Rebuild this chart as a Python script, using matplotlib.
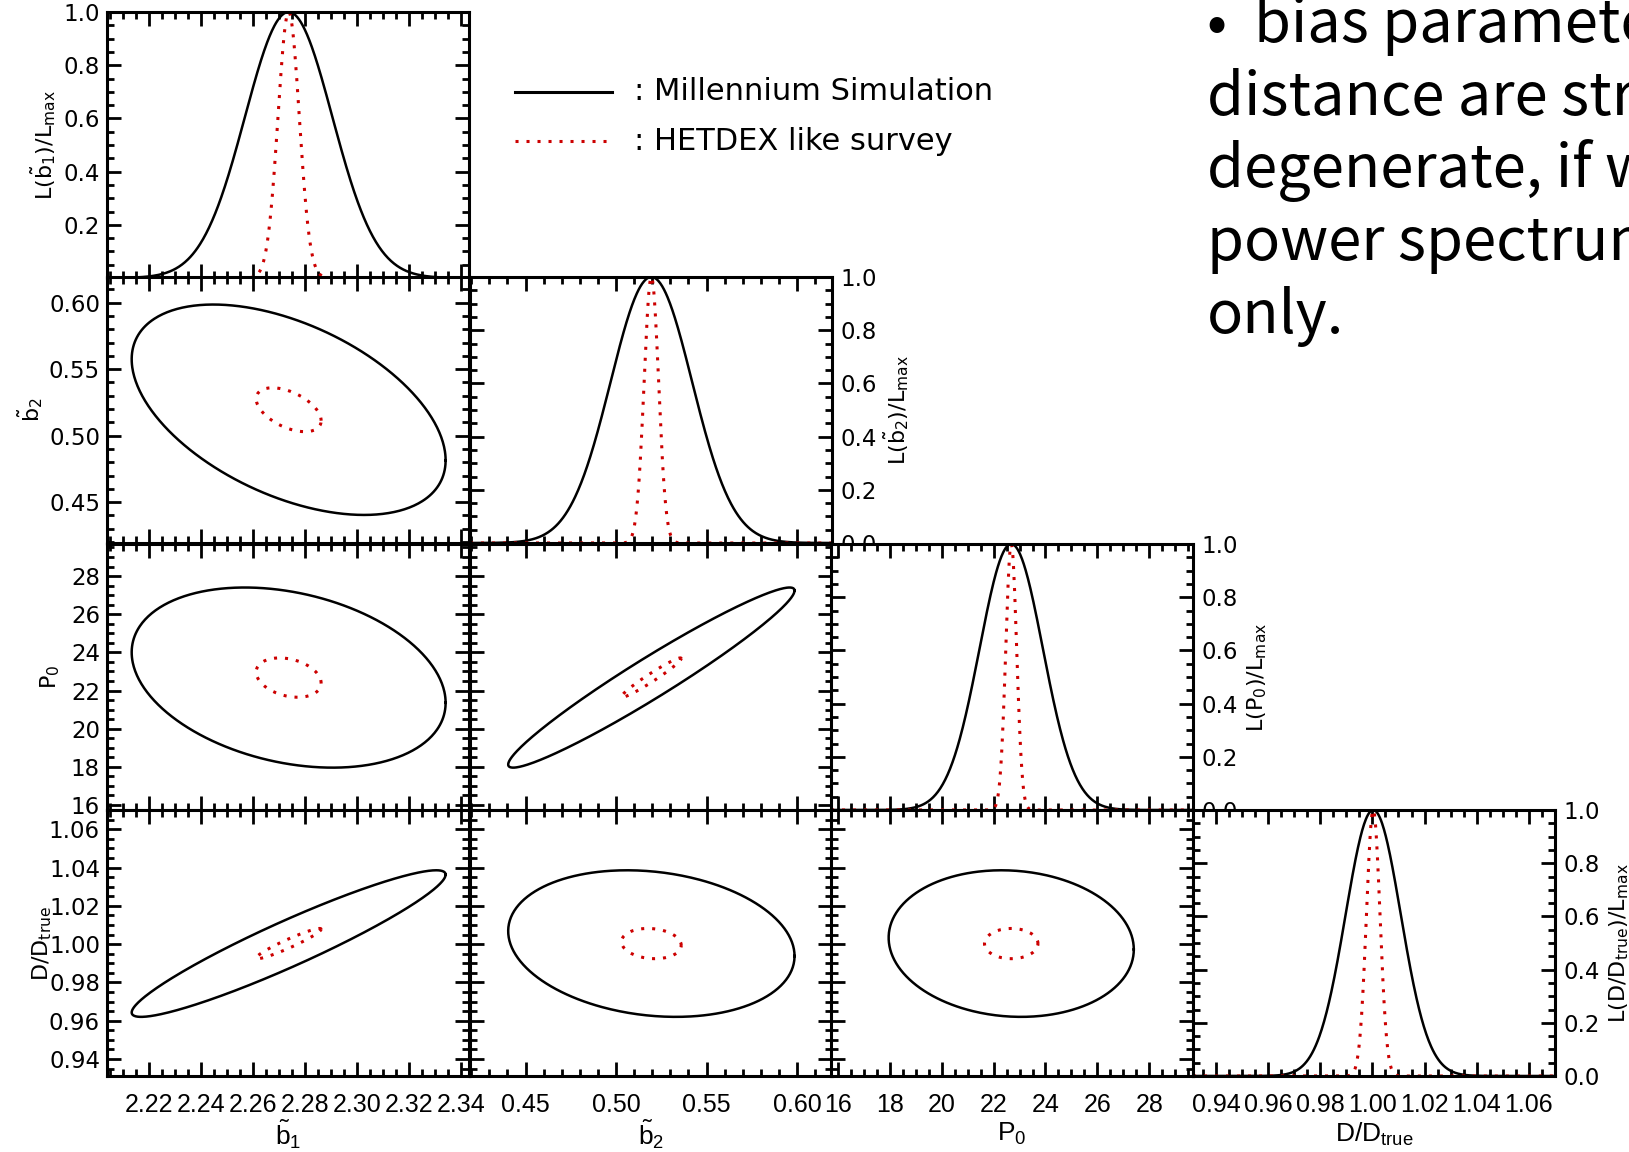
import numpy as np
import matplotlib
matplotlib.use("Agg")
import matplotlib.pyplot as plt
from matplotlib.lines import Line2D
from matplotlib.ticker import MultipleLocator, FuncFormatter

plt.rcParams['font.family'] = ['DejaVu Sans']
plt.rcParams['mathtext.fontset'] = 'dejavusans'
plt.rcParams['mathtext.default'] = 'regular'

# ==========================================
# data
# ==========================================
param_labels = [r'$\tilde{b}_1$', r'$\tilde{b}_2$', r'$P_0$', r'$D/D_{true}$']
like_labels = [r'$L(\tilde{b}_1)/L_{max}$', r'$L(\tilde{b}_2)/L_{max}$',
               r'$L(P_0)/L_{max}$', r'$L(D/D_{true})/L_{max}$']

best_fit = [2.2738, 0.5195, 22.68, 1.0003]
axis_lo = [2.2039, 0.4193, 15.74, 0.9311]
axis_hi = [2.3432, 0.6193, 29.68, 1.0701]
tick_step = [0.02, 0.05, 2.0, 0.02]
minor_step = [0.005, 0.01, 0.5, 0.005]
tick_fmt = ['%.2f', '%.2f', '%d', '%.2f']

# 1D likelihood widths (sigma of the gaussians)
ms_sigma = [0.0168, 0.0225, 1.22, 0.0106]
hx_sigma = [0.0041, 0.0040, 0.21, 0.0026]

# 2D contours: half extent along each parameter + correlation per pair
ms_extent = [0.0604, 0.0791, 4.72, 0.0383]
hx_extent = [0.0125, 0.0165, 1.03, 0.0079]
pairs = [(0, 1), (0, 2), (1, 2), (0, 3), (1, 3), (2, 3)]
ms_rho = [-0.48, -0.28, 0.965, 0.94, -0.17, -0.08]
hx_rho = [-0.50, -0.28, 0.97, 0.95, -0.12, 0.0]

legend_names = [': Millennium Simulation', ': HETDEX like survey']
note_lines = ['\u2022  bias parameters and', 'distance are strongly',
              'degenerate, if we use', 'power spectrum', 'only.']

# ==========================================
# layout (pixels of the 1629x1152 canvas)
# ==========================================
W, H = 1629, 1152
col_x = [107, 470, 831, 1193]
row_y = [12, 277, 544, 810]
cw, rh = 362, 266
RED = '#cc0000'
DOT = (0, (1, 2.6))

fig = plt.figure(figsize=(W / 100, H / 100), dpi=100)


def fx(px):
    return px / W


def fy(py):
    return 1 - py / H


def setup_axis(axis, k):
    axis.set_major_locator(MultipleLocator(tick_step[k]))
    axis.set_minor_locator(MultipleLocator(minor_step[k]))
    axis.set_major_formatter(FuncFormatter(lambda v, p, f=tick_fmt[k]: f % v))


def like_axis(axis, hide_zero):
    axis.set_major_locator(MultipleLocator(0.2))
    axis.set_minor_locator(MultipleLocator(0.05))
    axis.set_major_formatter(FuncFormatter(
        lambda v, p: '' if (hide_zero and abs(v) < 1e-6) else '%.1f' % v))


def ellipse(cx, cy, ex, ey, rho):
    t = np.linspace(0, 2 * np.pi, 400)
    x = cx + ex * np.cos(t)
    y = cy + ey * (rho * np.cos(t) + np.sqrt(1 - rho ** 2) * np.sin(t))
    return x, y


for i in range(4):
    for j in range(i + 1):
        ax = fig.add_axes([fx(col_x[j]), fy(row_y[i] + rh), cw / W, rh / H])
        ax.set_xlim(axis_lo[j], axis_hi[j])
        setup_axis(ax.xaxis, j)
        if i == j:
            xs = np.linspace(axis_lo[j], axis_hi[j], 600)
            ax.plot(xs, np.exp(-0.5 * ((xs - best_fit[j]) / ms_sigma[j]) ** 2),
                    color='k', lw=1.8)
            ax.plot(xs, np.exp(-0.5 * ((xs - best_fit[j]) / hx_sigma[j]) ** 2),
                    color=RED, lw=2.2, linestyle=DOT)
            ax.set_ylim(0, 1.0)
            like_axis(ax.yaxis, i == 0)
        else:
            k = pairs.index((j, i))
            x, y = ellipse(best_fit[j], best_fit[i], ms_extent[j], ms_extent[i], ms_rho[k])
            ax.plot(x, y, color='k', lw=1.8)
            x, y = ellipse(best_fit[j], best_fit[i], hx_extent[j], hx_extent[i], hx_rho[k])
            ax.plot(x, y, color=RED, lw=2.2, linestyle=DOT)
            ax.set_ylim(axis_lo[i], axis_hi[i])
            setup_axis(ax.yaxis, i)

        for s in ax.spines.values():
            s.set_linewidth(2.2)
        ax.tick_params(which='both', direction='in', top=True, right=True, width=2,
                       labelbottom=False, labelleft=False)
        ax.tick_params(which='major', length=10)
        ax.tick_params(which='minor', length=5)
        if i == 3:
            ax.tick_params(axis='x', labelbottom=True, labelsize=18, pad=12,
                           labelfontfamily='Liberation Sans')
        if j == 0:
            ax.tick_params(axis='y', labelleft=True, labelsize=16.5, pad=5)
        if i == j and i > 0:
            ax.tick_params(axis='y', labelleft=False, labelright=True,
                           labelsize=16.5, pad=6)

# axis titles
for j in range(4):
    fig.text(fx(col_x[j] + cw / 2), fy(1134), param_labels[j], fontsize=19,
             ha='center', va='center', family='Liberation Sans')
left_lab_x = [43, 30, 50, 42]
for i in range(1, 4):
    fig.text(fx(left_lab_x[i]), fy(row_y[i] + rh / 2), param_labels[i], fontsize=16,
             rotation=90, ha='center', va='center')
fig.text(fx(left_lab_x[0]), fy(row_y[0] + rh / 2), like_labels[0], fontsize=16,
         rotation=90, ha='center', va='center')
for i in range(1, 4):
    fig.text(fx(col_x[i] + cw + 64), fy(row_y[i] + rh / 2), like_labels[i], fontsize=16,
             rotation=90, ha='center', va='center')

# legend
fig.add_artist(Line2D([fx(515), fx(612)], [fy(91.5), fy(91.5)], color='k', lw=2.2))
fig.add_artist(Line2D([fx(515), fx(612)], [fy(141), fy(141)], color=RED, lw=2.2,
                      linestyle=DOT))
fig.text(fx(634), fy(91.5), legend_names[0], fontsize=22, va='center')
fig.text(fx(634), fy(141), legend_names[1], fontsize=22, va='center')

# note on the right (runs off the slide edge, as in the original)
note_base = [42, 115, 187, 260, 333]
for line, yb in zip(note_lines, note_base):
    fig.text(fx(1207), fy(yb), line, fontsize=43, va='baseline',
             family=['Noto Sans CJK KR', 'DejaVu Sans'])

fig.savefig('out.png', dpi=100)
